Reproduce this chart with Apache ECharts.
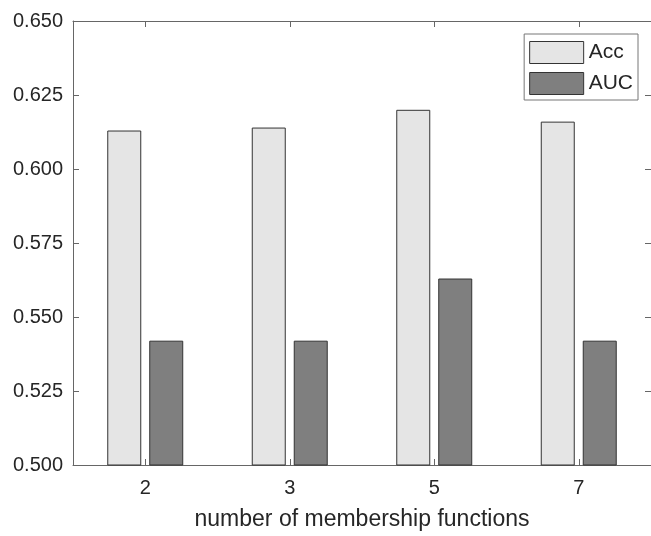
<!DOCTYPE html>
<html>
<head>
<meta charset="utf-8">
<script src="https://cdn.jsdelivr.net/npm/echarts@6/dist/echarts.min.js"></script>
<style>
  html, body { margin: 0; padding: 0; background: #ffffff; }
  #chart { width: 651px; height: 536px; }
</style>
</head>
<body>
<div id="chart"></div>
<script>
// Number of membership functions on the horizontal axis
const categories = ['2', '3', '5', '7'];
// Accuracy and AUC for each setting
const accValues = [0.613, 0.614, 0.620, 0.616];
const aucValues = [0.542, 0.542, 0.563, 0.542];
// Value-axis range and ticks
const yMin = 0.5;
const yMax = 0.65;
const yStep = 0.025;

const axisColor = '#666666';
const textColor = '#262626';
const fontFamily = 'Liberation Sans, Arial, Helvetica, sans-serif';

const chart = echarts.init(document.getElementById('chart'), null, { renderer: 'canvas' });

const tickStyle = { show: true, inside: true, length: 6, lineStyle: { color: axisColor, width: 1 } };

chart.setOption({
  animation: false,
  backgroundColor: '#ffffff',
  grid: { left: 73, top: 21, width: 582, height: 452, containLabel: false },
  legend: {
    right: 13,
    top: 34,
    orient: 'vertical',
    itemWidth: 54,
    itemHeight: 22,
    itemGap: 8,
    padding: [7, 5, 5, 5],
    borderColor: '#777777',
    borderWidth: 1,
    backgroundColor: '#ffffff',
    icon: 'rect',
    textStyle: { fontSize: 21, color: textColor, fontFamily: fontFamily, padding: [0, 0, 0, 0] },
    data: [
      { name: 'Acc', itemStyle: { color: '#e5e5e5', borderColor: '#333333', borderWidth: 1 } },
      { name: 'AUC', itemStyle: { color: '#7f7f7f', borderColor: '#333333', borderWidth: 1 } }
    ]
  },
  xAxis: [
    {
      type: 'category',
      data: categories,
      position: 'bottom',
      boundaryGap: true,
      axisLine: { show: true, lineStyle: { color: axisColor, width: 1 } },
      axisTick: Object.assign({ alignWithLabel: true }, tickStyle),
      axisLabel: { fontSize: 20, color: textColor, fontFamily: fontFamily, margin: 13 },
      name: 'number of membership functions',
      nameLocation: 'middle',
      nameGap: 43,
      nameTextStyle: { fontSize: 23, color: textColor, fontFamily: fontFamily },
      splitLine: { show: false }
    },
    {
      type: 'category',
      data: categories,
      position: 'top',
      boundaryGap: true,
      axisLine: { show: true, onZero: false, lineStyle: { color: axisColor, width: 1 } },
      axisTick: Object.assign({ alignWithLabel: true }, tickStyle),
      axisLabel: { show: false },
      splitLine: { show: false }
    }
  ],
  yAxis: [
    {
      type: 'value',
      min: yMin,
      max: yMax,
      interval: yStep,
      position: 'left',
      axisLine: { show: true, lineStyle: { color: axisColor, width: 1 } },
      axisTick: tickStyle,
      axisLabel: {
        fontSize: 20, color: textColor, fontFamily: fontFamily, margin: 10,
        formatter: v => v.toFixed(3)
      },
      splitLine: { show: false }
    },
    {
      type: 'value',
      min: yMin,
      max: yMax,
      interval: yStep,
      position: 'right',
      axisLine: { show: true, onZero: false, lineStyle: { color: axisColor, width: 1 } },
      axisTick: tickStyle,
      axisLabel: { show: false },
      splitLine: { show: false }
    }
  ],
  series: [
    {
      name: 'Acc',
      type: 'bar',
      data: accValues,
      xAxisIndex: 0,
      yAxisIndex: 0,
      barWidth: 34,
      barGap: '23.5%',
      itemStyle: { color: '#e5e5e5', borderColor: '#333333', borderWidth: 1 }
    },
    {
      name: 'AUC',
      type: 'bar',
      data: aucValues,
      xAxisIndex: 0,
      yAxisIndex: 0,
      barWidth: 34,
      barGap: '23.5%',
      itemStyle: { color: '#7f7f7f', borderColor: '#333333', borderWidth: 1 }
    }
  ]
});
</script>
</body>
</html>
